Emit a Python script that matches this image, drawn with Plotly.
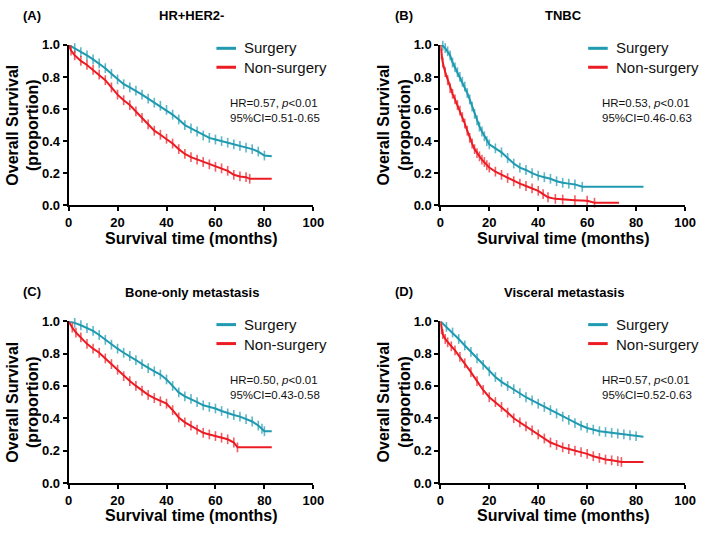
import plotly.graph_objects as go

W, H = 713, 534
TEAL = "#1f9ab0"
RED = "#ec1c24"
FONT = "Liberation Sans"

# ---------------- data ----------------
# (A) HR+HER2-
a_t_surg = [0, 2.5, 5, 7.5, 10, 12.5, 15, 17.5, 20, 22.5, 25, 27.5, 30, 32.5, 35, 37.5, 40, 42.5, 45, 47.5,
            50, 52.5, 55, 57.5, 60, 62.5, 65, 67.5, 70, 72.5, 75, 77.5, 80, 83]
a_s_surg = [1.0, 0.98, 0.955, 0.935, 0.91, 0.885, 0.855, 0.82, 0.785, 0.755, 0.735, 0.715, 0.69, 0.665, 0.64,
            0.62, 0.595, 0.565, 0.535, 0.50, 0.48, 0.46, 0.435, 0.42, 0.41, 0.40, 0.39, 0.38, 0.37, 0.36, 0.35,
            0.335, 0.31, 0.305]
a_t_non = [0, 1, 2.5, 5, 7.5, 10, 12.5, 15, 17.5, 20, 22.5, 25, 27.5, 30, 32.5, 35, 37.5, 40, 42.5, 45, 47.5,
           50, 52.5, 55, 57.5, 60, 62.5, 65, 67.5, 70, 72.5, 74, 83]
a_s_non = [1.0, 0.965, 0.935, 0.90, 0.875, 0.845, 0.815, 0.78, 0.735, 0.69, 0.655, 0.625, 0.585, 0.545, 0.505,
           0.465, 0.44, 0.415, 0.385, 0.35, 0.32, 0.30, 0.285, 0.27, 0.255, 0.24, 0.23, 0.215, 0.19, 0.18,
           0.175, 0.165, 0.165]

# (B) TNBC
b_t_surg = [0, 1, 2, 3, 4, 5, 6, 7, 8, 9, 10, 11, 12, 13, 14, 15, 16, 17, 18, 19, 20, 22.5, 25, 27.5, 30,
            32.5, 35, 37.5, 40, 42.5, 45, 47.5, 50, 52.5, 55, 58, 83]
b_s_surg = [1.0, 0.995, 0.98, 0.96, 0.935, 0.89, 0.86, 0.83, 0.80, 0.77, 0.74, 0.70, 0.66, 0.615, 0.57, 0.53,
            0.49, 0.46, 0.43, 0.40, 0.38, 0.355, 0.33, 0.295, 0.26, 0.235, 0.22, 0.20, 0.185, 0.175, 0.165,
            0.15, 0.14, 0.135, 0.13, 0.115, 0.115]
b_t_non = [0, 0.5, 1, 2, 3, 4, 5, 6, 7, 8, 9, 10, 11, 12, 13, 14, 15, 16, 17, 18, 19, 20, 22.5, 25, 27.5, 30,
           32.5, 35, 37.5, 40, 42, 44, 47, 50, 55, 60, 63, 73]
b_s_non = [1.0, 0.94, 0.89, 0.83, 0.78, 0.73, 0.695, 0.66, 0.625, 0.59, 0.55, 0.51, 0.465, 0.42, 0.385, 0.35,
           0.325, 0.305, 0.285, 0.27, 0.25, 0.235, 0.21, 0.19, 0.17, 0.15, 0.135, 0.12, 0.105, 0.09, 0.07,
           0.05, 0.04, 0.036, 0.032, 0.028, 0.016, 0.016]

# (C) Bone-only metastasis
c_t_surg = [0, 2.5, 5, 7.5, 10, 12.5, 15, 17.5, 20, 22.5, 25, 27.5, 30, 32.5, 35, 37.5, 40, 42.5, 45, 47.5,
            50, 52.5, 55, 57.5, 60, 62.5, 65, 67.5, 70, 72.5, 75, 77.5, 79, 80, 83]
c_s_surg = [1.0, 0.99, 0.975, 0.958, 0.94, 0.915, 0.885, 0.855, 0.83, 0.805, 0.785, 0.76, 0.735, 0.71, 0.69,
            0.67, 0.64, 0.60, 0.56, 0.535, 0.52, 0.50, 0.48, 0.47, 0.46, 0.445, 0.43, 0.42, 0.41, 0.395, 0.38,
            0.355, 0.335, 0.32, 0.32]
c_t_non = [0, 1.5, 3, 5, 7.5, 10, 12.5, 15, 17.5, 20, 22.5, 25, 27.5, 30, 32.5, 35, 37.5, 40, 42.5, 45, 47.5,
           50, 52.5, 55, 57.5, 60, 62.5, 65, 67.5, 69, 83]
c_s_non = [1.0, 0.96, 0.93, 0.90, 0.86, 0.83, 0.805, 0.77, 0.735, 0.70, 0.66, 0.63, 0.60, 0.57, 0.545, 0.525,
           0.505, 0.49, 0.45, 0.405, 0.375, 0.355, 0.33, 0.31, 0.30, 0.29, 0.28, 0.27, 0.25, 0.22, 0.22]

# (D) Visceral metastasis
d_t_surg = [0, 2.5, 5, 7.5, 10, 12.5, 15, 17.5, 20, 22.5, 25, 27.5, 30, 32.5, 35, 37.5, 40, 42.5, 45, 47.5,
            50, 52.5, 55, 57.5, 60, 62.5, 65, 67.5, 70, 72.5, 75, 77.5, 80, 83]
d_s_surg = [1.0, 0.965, 0.93, 0.89, 0.85, 0.81, 0.77, 0.73, 0.69, 0.655, 0.625, 0.60, 0.58, 0.555, 0.53, 0.51,
            0.49, 0.47, 0.45, 0.43, 0.41, 0.39, 0.37, 0.355, 0.34, 0.33, 0.32, 0.315, 0.31, 0.305, 0.30, 0.295,
            0.29, 0.285]
d_t_non = [0, 0.5, 1, 2, 3, 4.5, 6, 8, 10, 12.5, 15, 17.5, 20, 22.5, 25, 27.5, 30, 32.5, 35, 37.5, 40, 42.5,
           45, 47.5, 50, 52.5, 55, 57.5, 60, 62.5, 65, 67.5, 70, 72.5, 74, 83]
d_s_non = [1.0, 0.95, 0.92, 0.89, 0.87, 0.845, 0.82, 0.78, 0.74, 0.685, 0.63, 0.575, 0.53, 0.50, 0.47, 0.435,
           0.40, 0.375, 0.35, 0.325, 0.30, 0.275, 0.25, 0.235, 0.22, 0.21, 0.20, 0.19, 0.18, 0.165, 0.155,
           0.145, 0.14, 0.135, 0.13, 0.13]

panel_labels = ["(A)", "(B)", "(C)", "(D)"]
panel_titles = ["HR+HER2-", "TNBC", "Bone-only metastasis", "Visceral metastasis"]
hr_values = ["0.57", "0.53", "0.50", "0.57"]
ci_values = ["0.51-0.65", "0.46-0.63", "0.43-0.58", "0.52-0.63"]
series_names = ["Surgery", "Non-surgery"]
x_ticks = [0, 20, 40, 60, 80, 100]
y_ticks = [0.0, 0.2, 0.4, 0.6, 0.8, 1.0]

curves = [
    ((a_t_surg, a_s_surg), (a_t_non, a_s_non)),
    ((b_t_surg, b_s_surg), (b_t_non, b_s_non)),
    ((c_t_surg, c_s_surg), (c_t_non, c_s_non)),
    ((d_t_surg, d_s_surg), (d_t_non, d_s_non)),
]

# ---------------- layout helpers (pixel frames of the four plot areas) ----------------
frames = [(66, 39, 316, 204), (445.7, 39, 695.7, 204),
          (66, 323.3, 316, 489.7), (445.7, 323.3, 695.7, 489.7)]


def px(x):
    return x / W


def py(y):
    return 1 - y / H


fig = go.Figure()
layout = dict(width=W, height=H, margin=dict(l=0, r=0, t=0, b=0),
              paper_bgcolor="white", plot_bgcolor="white", showlegend=False,
              font=dict(family=FONT, color="black"))
annotations = []
shapes = []
colors = [TEAL, RED]

for i, (l, t, r, b) in enumerate(frames):
    n = "" if i == 0 else str(i + 1)
    xa, ya = "xaxis" + n, "yaxis" + n
    axis_common = dict(showline=True, linewidth=2, linecolor="black", ticks="outside", ticklen=4,
                       tickwidth=2, tickcolor="black", showgrid=False, zeroline=False,
                       tickfont=dict(family=FONT, size=13, color="black", weight="bold"))
    layout[xa] = dict(domain=[px(l), px(r)], range=[0, 100], tickvals=x_ticks, anchor="y" + n, **axis_common)
    layout[ya] = dict(domain=[py(b), py(t)], range=[0, 1], tickvals=y_ticks, tickformat=".1f",
                      anchor="x" + n, **axis_common)

    for k, (tt, ss) in enumerate(curves[i]):
        sizes = [0] + [7] * (len(tt) - 2) + [0]
        fig.add_trace(go.Scatter(
            x=tt, y=ss, mode="lines+markers", name=series_names[k],
            line=dict(color=colors[k], width=2),
            marker=dict(symbol="line-ns", size=sizes, color=colors[k],
                        line=dict(color=colors[k], width=1.6)),
            xaxis="x" + n, yaxis="y" + n, cliponaxis=False, hoverinfo="skip"))

    # panel label and title
    annotations.append(dict(text="<b>" + panel_labels[i] + "</b>", x=px(l - 37), y=py(t - 30.5),
                            xref="paper", yref="paper", showarrow=False, xanchor="center", yanchor="middle",
                            font=dict(size=13, family=FONT, color="black")))
    annotations.append(dict(text="<b>" + panel_titles[i] + "</b>", x=px(l + 126), y=py(t - 30),
                            xref="paper", yref="paper", showarrow=False, xanchor="center", yanchor="middle",
                            font=dict(size=13, family=FONT, color="black")))
    # legend (swatches + two-line label)
    for k in range(2):
        yy = t + 3.5 + 19.5 * k
        shapes.append(dict(type="line", xref="paper", yref="paper", x0=px(l + 151), x1=px(l + 171),
                           y0=py(yy), y1=py(yy), line=dict(color=colors[k], width=3)))
    annotations.append(dict(text="<br>".join(series_names), x=px(l + 177), y=py(t + 13.25),
                            xref="paper", yref="paper", showarrow=False, xanchor="left", yanchor="middle",
                            align="left", font=dict(size=15, family=FONT, color="#111")))
    # HR text
    annotations.append(dict(text="HR=" + hr_values[i] + ", <i>p</i><0.01<br>95%CI=" + ci_values[i],
                            x=px(l + 163), y=py(t + 68), xref="paper", yref="paper", showarrow=False,
                            xanchor="left", yanchor="middle", align="left",
                            font=dict(size=11.5, family=FONT, color="#111")))
    # axis titles
    annotations.append(dict(text="<b>Survival time (months)</b>", x=px(l + 125), y=py(b + 34),
                            xref="paper", yref="paper", showarrow=False, xanchor="center", yanchor="middle",
                            font=dict(size=16, family=FONT, color="black")))
    annotations.append(dict(text="<b>Overall Survival<br>(proportion)</b>", x=px(l - 47), y=py((t + b) / 2),
                            xref="paper", yref="paper", showarrow=False, textangle=-90,
                            xanchor="center", yanchor="middle",
                            font=dict(size=16, family=FONT, color="black")))

layout["annotations"] = annotations
layout["shapes"] = shapes
fig.update_layout(**layout)
fig.write_html("out.html", config={"displayModeBar": False},
               post_script="document.body.style.margin='0px';")
